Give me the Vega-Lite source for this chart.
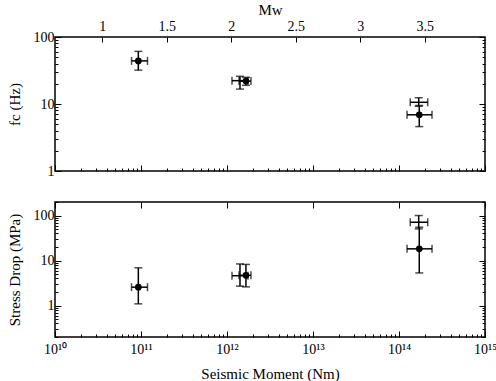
{
  "$schema": "https://vega.github.io/schema/vega-lite/v6.json",
  "padding": {"left": 6, "top": 1, "right": 5, "bottom": 5},
  "config": {
    "font": "Liberation Serif",
    "view": {"stroke": "black", "strokeWidth": 1.5},
    "axis": {"domain": false, "grid": false, "labelFont": "Liberation Serif", "labelFontSize": 14, "labelColor": "black", "titleFont": "Liberation Serif", "titleFontSize": 15, "titleFontWeight": "normal", "titleColor": "black", "tickColor": "black", "tickWidth": 1, "labelOverlap": false, "labelFlush": false}
  },
  "datasets": {
    "fc": [
      {"type": "filled", "m0": 9.31e10, "m0lo": 7.76e10, "m0hi": 1.19e11, "y": 44, "ylo": 32, "yhi": 61},
      {"type": "open", "m0": 1.416e12, "m0lo": 1.143e12, "m0hi": 1.754e12, "y": 22.3, "ylo": 16.7, "yhi": 25.9},
      {"type": "filled", "m0": 1.66e12, "m0lo": 1.38e12, "m0hi": 1.9e12, "y": 22, "ylo": 19, "yhi": 25},
      {"type": "open", "m0": 1.695e14, "m0lo": 1.352e14, "m0hi": 2.157e14, "y": 10.6, "ylo": 9.25, "yhi": 12.4},
      {"type": "filled", "m0": 1.72e14, "m0lo": 1.24e14, "m0hi": 2.42e14, "y": 6.9, "ylo": 4.6, "yhi": 9.5}
    ],
    "stress": [
      {"type": "filled", "m0": 9.31e10, "m0lo": 7.76e10, "m0hi": 1.19e11, "y": 2.56, "ylo": 1.09, "yhi": 6.9},
      {"type": "open", "m0": 1.416e12, "m0lo": 1.143e12, "m0hi": 1.754e12, "y": 4.6, "ylo": 2.7, "yhi": 8.4},
      {"type": "filled", "m0": 1.66e12, "m0lo": 1.38e12, "m0hi": 1.9e12, "y": 4.7, "ylo": 2.6, "yhi": 8.2},
      {"type": "open", "m0": 1.695e14, "m0lo": 1.352e14, "m0hi": 2.157e14, "y": 71, "ylo": 50.6, "yhi": 100},
      {"type": "filled", "m0": 1.72e14, "m0lo": 1.24e14, "m0hi": 2.42e14, "y": 18.2, "ylo": 5.3, "yhi": 55}
    ],
    "mw": [{"mw": 1}, {"mw": 1.5}, {"mw": 2}, {"mw": 2.5}, {"mw": 3}, {"mw": 3.5}]
  },
  "spacing": 15,
  "vconcat": [
    {
      "width": 430,
      "height": 134,
      "resolve": {"scale": {"x": "independent"}, "axis": {"x": "independent", "y": "independent"}},
      "layer": [
        {
          "data": {"name": "fc"},
          "mark": {"type": "errorbar", "ticks": {"size": 8, "thickness": 1.5}, "thickness": 1.5, "color": "black"},
          "encoding": {
            "x": {"field": "m0lo", "type": "quantitative", "scale": {"type": "log", "domain": [1e10, 1e15], "nice": false},
              "axis": {"orient": "bottom", "title": null, "labels": false,
                "values": [1e10,2e10,3e10,4e10,5e10,6e10,7e10,8e10,9e10,1e11,2e11,3e11,4e11,5e11,6e11,7e11,8e11,9e11,1e12,2e12,3e12,4e12,5e12,6e12,7e12,8e12,9e12,1e13,2e13,3e13,4e13,5e13,6e13,7e13,8e13,9e13,1e14,2e14,3e14,4e14,5e14,6e14,7e14,8e14,9e14,1e15],
                "tickSize": {"condition": {"test": "abs(log(datum.value)/LN10 - round(log(datum.value)/LN10)) < 1e-6", "value": -6}, "value": -3}}},
            "x2": {"field": "m0hi"},
            "y": {"field": "y", "type": "quantitative", "scale": {"type": "log", "domain": [1, 100], "nice": false},
              "axis": {"orient": "left", "title": "fc (Hz)", "titlePadding": 11, "labelPadding": 7,
                "values": [1,2,3,4,5,6,7,8,9,10,20,30,40,50,60,70,80,90,100],
                "labelExpr": "abs(log(datum.value)/LN10 - round(log(datum.value)/LN10)) < 1e-6 ? format(datum.value, '~g') : ''",
                "tickSize": {"condition": {"test": "abs(log(datum.value)/LN10 - round(log(datum.value)/LN10)) < 1e-6", "value": -6}, "value": -3}}}
          }
        },
        {
          "data": {"name": "fc"},
          "mark": {"type": "errorbar", "ticks": {"size": 8, "thickness": 1.5}, "thickness": 1.5, "color": "black"},
          "encoding": {
            "x": {"field": "m0", "type": "quantitative", "scale": {"type": "log", "domain": [1e10, 1e15], "nice": false}, "axis": null},
            "y": {"field": "ylo", "type": "quantitative", "scale": {"type": "log", "domain": [1, 100], "nice": false}, "axis": null},
            "y2": {"field": "yhi"}
          }
        },
        {
          "data": {"name": "fc"},
          "transform": [{"filter": "datum.type == 'filled'"}],
          "mark": {"type": "point", "filled": true, "size": 45, "color": "black", "opacity": 1},
          "encoding": {
            "x": {"field": "m0", "type": "quantitative", "scale": {"type": "log", "domain": [1e10, 1e15], "nice": false}, "axis": null},
            "y": {"field": "y", "type": "quantitative", "scale": {"type": "log", "domain": [1, 100], "nice": false},
              "axis": {"orient": "right", "title": null, "labels": false,
                "values": [1,2,3,4,5,6,7,8,9,10,20,30,40,50,60,70,80,90,100],
                "tickSize": {"condition": {"test": "abs(log(datum.value)/LN10 - round(log(datum.value)/LN10)) < 1e-6", "value": -6}, "value": -3}}}
          }
        },
        {
          "data": {"name": "mw"},
          "mark": {"type": "tick", "opacity": 0},
          "encoding": {
            "x": {"field": "mw", "type": "quantitative", "scale": {"type": "linear", "domain": [0.6333, 3.9667], "nice": false, "zero": false},
              "axis": {"orient": "top", "title": "Mw", "values": [1, 1.5, 2, 2.5, 3, 3.5], "format": "~g", "tickSize": -5, "labelPadding": 9, "titlePadding": 2}}
          }
        }
      ]
    },
    {
      "width": 430,
      "height": 135,
      "resolve": {"axis": {"x": "independent", "y": "independent"}},
      "layer": [
        {
          "data": {"name": "stress"},
          "mark": {"type": "errorbar", "ticks": {"size": 8, "thickness": 1.5}, "thickness": 1.5, "color": "black"},
          "encoding": {
            "x": {"field": "m0lo", "type": "quantitative", "scale": {"type": "log", "domain": [1e10, 1e15], "nice": false},
              "axis": {"orient": "bottom", "title": "Seismic Moment (Nm)", "titlePadding": 7, "labelPadding": 11,
                "values": [1e10,2e10,3e10,4e10,5e10,6e10,7e10,8e10,9e10,1e11,2e11,3e11,4e11,5e11,6e11,7e11,8e11,9e11,1e12,2e12,3e12,4e12,5e12,6e12,7e12,8e12,9e12,1e13,2e13,3e13,4e13,5e13,6e13,7e13,8e13,9e13,1e14,2e14,3e14,4e14,5e14,6e14,7e14,8e14,9e14,1e15],
                "labelExpr": "abs(log(datum.value)/LN10 - round(log(datum.value)/LN10)) < 1e-6 ? ['10¹⁰','10¹¹','10¹²','10¹³','10¹⁴','10¹⁵'][round(log(datum.value)/LN10) - 10] : ''",
                "tickSize": {"condition": {"test": "abs(log(datum.value)/LN10 - round(log(datum.value)/LN10)) < 1e-6", "value": -6}, "value": -3}}},
            "x2": {"field": "m0hi"},
            "y": {"field": "y", "type": "quantitative", "scale": {"type": "log", "domain": [0.2, 200], "nice": false},
              "axis": {"orient": "left", "title": "Stress Drop (MPa)", "titlePadding": 11, "labelPadding": 7,
                "values": [0.2,0.3,0.4,0.5,0.6,0.7,0.8,0.9,1,2,3,4,5,6,7,8,9,10,20,30,40,50,60,70,80,90,100,200],
                "labelExpr": "abs(log(datum.value)/LN10 - round(log(datum.value)/LN10)) < 1e-6 ? format(datum.value, '~g') : ''",
                "tickSize": {"condition": {"test": "abs(log(datum.value)/LN10 - round(log(datum.value)/LN10)) < 1e-6", "value": -6}, "value": -3}}}
          }
        },
        {
          "data": {"name": "stress"},
          "mark": {"type": "errorbar", "ticks": {"size": 8, "thickness": 1.5}, "thickness": 1.5, "color": "black"},
          "encoding": {
            "x": {"field": "m0", "type": "quantitative", "scale": {"type": "log", "domain": [1e10, 1e15], "nice": false}, "axis": null},
            "y": {"field": "ylo", "type": "quantitative", "scale": {"type": "log", "domain": [0.2, 200], "nice": false}, "axis": null},
            "y2": {"field": "yhi"}
          }
        },
        {
          "data": {"name": "stress"},
          "transform": [{"filter": "datum.type == 'filled'"}],
          "mark": {"type": "point", "filled": true, "size": 45, "color": "black", "opacity": 1},
          "encoding": {
            "x": {"field": "m0", "type": "quantitative", "scale": {"type": "log", "domain": [1e10, 1e15], "nice": false},
              "axis": {"orient": "top", "title": null, "labels": false,
                "values": [1e10,1e11,1e12,1e13,1e14,1e15], "tickSize": -6}},
            "y": {"field": "y", "type": "quantitative", "scale": {"type": "log", "domain": [0.2, 200], "nice": false},
              "axis": {"orient": "right", "title": null, "labels": false,
                "values": [0.2,0.3,0.4,0.5,0.6,0.7,0.8,0.9,1,2,3,4,5,6,7,8,9,10,20,30,40,50,60,70,80,90,100,200],
                "tickSize": {"condition": {"test": "abs(log(datum.value)/LN10 - round(log(datum.value)/LN10)) < 1e-6", "value": -6}, "value": -3}}}
          }
        }
      ]
    }
  ]
}
